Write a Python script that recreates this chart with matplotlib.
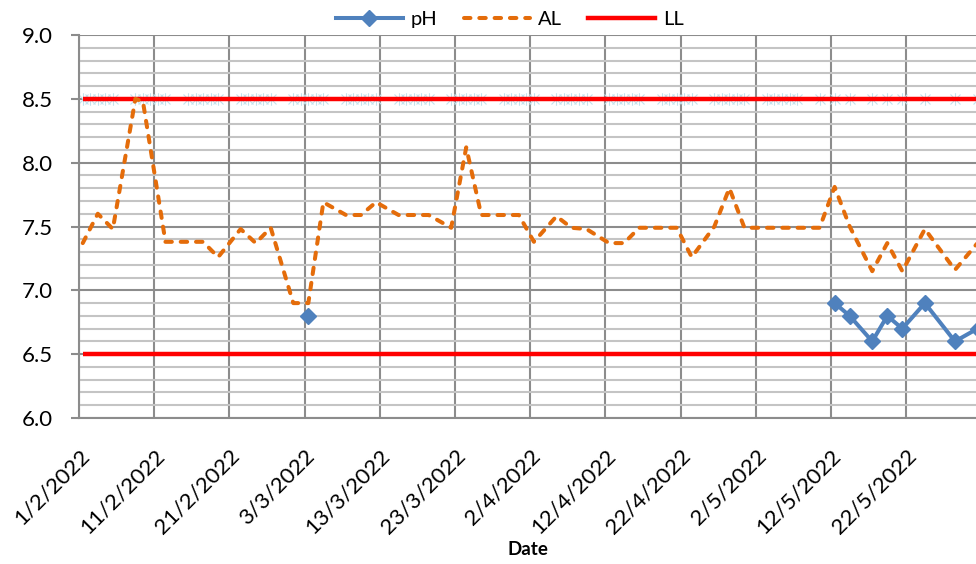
import matplotlib
matplotlib.use('Agg')
import matplotlib.pyplot as plt
from matplotlib.path import Path
from matplotlib.transforms import ScaledTranslation
from matplotlib.lines import Line2D
import numpy as np
import pandas as pd

# ---------------- data ----------------
al_dates = ['2022-02-01', '2022-02-03', '2022-02-05', '2022-02-08', '2022-02-09',
            '2022-02-12', '2022-02-17', '2022-02-19', '2022-02-22', '2022-02-24',
            '2022-02-26', '2022-03-01', '2022-03-03', '2022-03-05', '2022-03-08',
            '2022-03-10', '2022-03-12', '2022-03-15', '2022-03-19', '2022-03-22',
            '2022-03-24', '2022-03-26', '2022-03-31', '2022-04-02', '2022-04-05',
            '2022-04-07', '2022-04-09', '2022-04-12', '2022-04-14', '2022-04-16',
            '2022-04-21', '2022-04-23', '2022-04-26', '2022-04-28', '2022-04-30',
            '2022-05-10', '2022-05-12', '2022-05-14', '2022-05-17', '2022-05-19',
            '2022-05-21', '2022-05-24', '2022-05-28', '2022-05-31']
al_values = [7.37, 7.60, 7.48, 8.50, 8.48,
             7.38, 7.38, 7.26, 7.48, 7.37,
             7.49, 6.90, 6.90, 7.69, 7.59,
             7.59, 7.69, 7.59, 7.59, 7.49,
             8.12, 7.59, 7.59, 7.38, 7.58,
             7.49, 7.48, 7.37, 7.37, 7.49,
             7.49, 7.26, 7.50, 7.80, 7.49,
             7.49, 7.81, 7.50, 7.15, 7.37,
             7.15, 7.48, 7.16, 7.37]

ph_dates = ['2022-03-03', '2022-03-04', '2022-05-12', '2022-05-14', '2022-05-17',
            '2022-05-19', '2022-05-21', '2022-05-24', '2022-05-28', '2022-05-31']
ph_values = [6.8, None, 6.9, 6.8, 6.6, 6.8, 6.7, 6.9, 6.6, 6.7]

upper_limit = 8.5
lower_limit = 6.5

# sampling days (day offsets from 1/2/2022) shown as light markers on the 8.5 line
sample_days = [0, 1, 2, 3, 4, 7, 8, 9, 10, 11, 14, 15, 16, 17, 18, 21, 22, 23, 24, 25,
               28, 29, 30, 31, 32, 35, 36, 37, 38, 39, 42, 43, 44, 45, 46, 49, 50, 51, 52, 53,
               56, 57, 58, 59, 60, 63, 64, 65, 66, 67, 70, 71, 72, 73, 74, 77, 78, 79, 80, 81,
               84, 85, 86, 87, 88, 91, 92, 93, 94, 95, 98, 100, 102, 105, 107, 109, 112, 116, 119]

tick_dates = ['2022-02-01', '2022-02-11', '2022-02-21', '2022-03-03', '2022-03-13',
              '2022-03-23', '2022-04-02', '2022-04-12', '2022-04-22', '2022-05-02',
              '2022-05-12', '2022-05-22']
tick_labels = ['1/2/2022', '11/2/2022', '21/2/2022', '3/3/2022', '13/3/2022',
               '23/3/2022', '2/4/2022', '12/4/2022', '22/4/2022', '2/5/2022',
               '12/5/2022', '22/5/2022']
y_ticks = [6.0, 6.5, 7.0, 7.5, 8.0, 8.5, 9.0]

# ---------------- style ----------------
plt.rcParams['font.family'] = ['Lato', 'DejaVu Sans']
BLUE = '#4F81BD'
ORANGE = '#E46C0A'
RED = '#FF0000'
GRID_MAJ = '#8C8C8C'
GRID_MIN = '#C4C4C4'

start = pd.Timestamp('2022-02-01')
half = pd.Timedelta(hours=12)   # Excel date axis: points centred in day slot

fig = plt.figure(figsize=(9.76, 5.64), dpi=100)
ax = fig.add_axes([79 / 976, (564 - 418) / 564, (976 - 79) / 976, (418 - 35) / 564])

al_x = pd.to_datetime(al_dates) + half
ph_x = pd.to_datetime(ph_dates) + half
ph_y = np.array([np.nan if v is None else v for v in ph_values], dtype=float)
samp_x = start + pd.to_timedelta(sample_days, unit='D') + half

# star marker (x with vertical bar)
star = Path([(-1, -1), (1, 1), (-1, 1), (1, -1), (0, -1.25), (0, 1.25)],
            [Path.MOVETO, Path.LINETO, Path.MOVETO, Path.LINETO, Path.MOVETO, Path.LINETO])

ax.plot(samp_x, [upper_limit] * len(samp_x), linestyle='none', marker=star,
        markersize=9, markeredgewidth=0.8, color='#C2E2EC', zorder=2)

x0 = samp_x[0]
x1 = samp_x[-1] + pd.Timedelta(days=3)
ax.plot([x0, x1], [upper_limit, upper_limit], color=RED, lw=3.2, solid_capstyle='butt', zorder=3)
ax.plot([x0, x1], [lower_limit, lower_limit], color=RED, lw=3.2, solid_capstyle='butt', zorder=3)

ax.plot(al_x, al_values, color=ORANGE, lw=2.9, zorder=4,
        dashes=(1.6, 2.2), dash_capstyle='round')
ax.plot(ph_x, ph_y, color=BLUE, lw=2.9, marker='D', markersize=8.5, zorder=5)

# axes limits & ticks
ax.set_ylim(6.0, 9.0)
ax.set_xlim(start, start + pd.Timedelta(days=119.3))
ax.set_yticks(y_ticks)
ax.set_yticklabels([f'{v:.1f}' for v in y_ticks])
ax.set_yticks(np.round(np.arange(6.0, 9.0001, 0.1), 1), minor=True)
ax.set_xticks(pd.to_datetime(tick_dates))
ax.set_xticklabels(tick_labels)

ax.grid(True, which='major', axis='both', color=GRID_MAJ, lw=1.5, zorder=0)
ax.grid(True, which='minor', axis='y', color=GRID_MIN, lw=1.5, zorder=0)
ax.set_axisbelow(True)

for s in ['top', 'right']:
    ax.spines[s].set_visible(False)
for s in ['left', 'bottom']:
    ax.spines[s].set_color(GRID_MAJ)
    ax.spines[s].set_linewidth(1.5)

ax.tick_params(axis='y', which='major', length=5.5, width=1.5, color=GRID_MAJ,
               labelsize=16, pad=13)
ax.tick_params(axis='y', which='minor', length=0)
ax.tick_params(axis='x', which='major', length=0, labelsize=16, pad=25)

offset = ScaledTranslation(0.07, 0, fig.dpi_scale_trans)
for lab in ax.get_xticklabels():
    lab.set_rotation(45)
    lab.set_ha('right')
    lab.set_va('center')
    lab.set_rotation_mode('anchor')
    lab.set_transform(lab.get_transform() + offset)

ax.set_xlabel('Date', fontsize=13.5, fontweight='bold')
ax.xaxis.set_label_coords(0.5, -0.322)

# legend
handles = [Line2D([], [], color=BLUE, lw=2.9, marker='D', markersize=8.5),
           Line2D([], [], color=ORANGE, lw=2.9, dashes=(1.6, 2.2), dash_capstyle='round'),
           Line2D([], [], color=RED, lw=3.2)]
fig.legend(handles, ['pH', 'AL', 'LL'], loc='center', bbox_to_anchor=(0.5225, 0.966),
           ncol=3, frameon=False, fontsize=14.5, handlelength=3.3, handletextpad=0.4,
           columnspacing=1.3, borderpad=0)

fig.savefig('out.png', dpi=100)
